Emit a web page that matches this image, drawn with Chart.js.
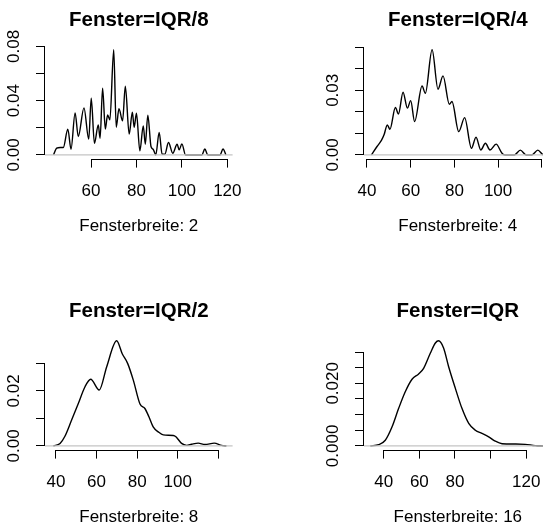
<!DOCTYPE html>
<html>
<head>
<meta charset="utf-8">
<title>Fensterbreite</title>
<script src="https://cdn.jsdelivr.net/npm/chart.js"></script>
<style>
  html, body { margin: 0; padding: 0; background: #fff; width: 543px; height: 531px; overflow: hidden; }
  canvas { position: absolute; }
</style>
</head>
<body>
<canvas id="p1" width="319" height="291" style="left:0px;top:0px"></canvas>
<canvas id="p2" width="319" height="291" style="left:319px;top:0px"></canvas>
<canvas id="p3" width="319" height="291" style="left:0px;top:291px"></canvas>
<canvas id="p4" width="319" height="291" style="left:319px;top:291px"></canvas>
<script>
'use strict';

// density curves
let x1 = [43.5, 44.9, 46.5, 47.8, 49.8, 51.2, 53.0, 54.4, 56.9, 59.0, 60.1, 61.5, 63.2, 64.0, 65.1, 66.3, 67.3, 68.3, 70.0, 71.1, 72.3, 73.9, 75.1, 76.8, 78.2, 79.0, 80.0, 81.5, 83.0, 83.9, 85.0, 86.4, 87.4, 88.5, 90.0, 91.3, 92.5, 94.1, 96.0, 97.9, 98.8, 100.0, 101.6, 108.8, 110.1, 111.4, 116.8, 118.1, 119.4];
let y1 = [0, 0.005, 0.0055, 0.0055, 0.019, 0.0042, 0.031, 0.0135, 0.0347, 0.0116, 0.0418, 0.0086, 0.0221, 0.0123, 0.0492, 0.019, 0.0295, 0.0258, 0.0775, 0.0204, 0.034, 0.0251, 0.0507, 0.0153, 0.0315, 0.0204, 0.0307, 0.003, 0.0214, 0.0079, 0.0293, 0.0062, 0.004, 0, 0.0165, 0.0005, 0.0005, 0.0091, 0.0012, 0.0079, 0.0037, 0.0081, 0, 0, 0.0044, 0, 0, 0.0044, 0];

let x2 = [42.0, 44.6, 46.6, 47.8, 49.3, 50.5, 53.0, 54.4, 56.5, 58.5, 60.0, 61.8, 65.2, 66.7, 69.8, 72.5, 74.8, 77.7, 78.9, 82.0, 84.7, 87.8, 89.9, 92.1, 94.2, 96.3, 99.1, 101.8, 103.2, 107.5, 110.2, 112.8, 115.5, 118.2, 120.8, 122.0];
let y2 = [0, 0.0039, 0.0067, 0.0093, 0.0139, 0.0119, 0.022, 0.019, 0.0291, 0.0217, 0.0252, 0.0155, 0.032, 0.0286, 0.0488, 0.0305, 0.0367, 0.0235, 0.0248, 0.0108, 0.0173, 0.0031, 0.0082, 0.0023, 0.0054, 0.0023, 0.005, 0.0008, 0, 0, 0.0022, 0, 0, 0.0022, 0, 0];

let x3 = [38.7, 42.0, 44.4, 47.7, 51.0, 54.3, 57.1, 61.3, 65.0, 69.9, 72.7, 75.3, 78.1, 81.4, 83.8, 85.8, 87.9, 90.4, 92.9, 97.8, 99.1, 101.9, 104.4, 106.8, 110.1, 113.4, 118.0, 121.6, 124.0];
let y3 = [0, 0.0009, 0.0035, 0.0094, 0.0154, 0.0215, 0.0242, 0.0203, 0.0288, 0.0382, 0.0334, 0.030, 0.0239, 0.0152, 0.0136, 0.0106, 0.0069, 0.0051, 0.004, 0.0038, 0.0033, 0.0009, 0.0002, 0.0006, 0.001, 0.0005, 0.001, 0.0002, 0];

let x4 = [32.5, 37.2, 40.9, 44.7, 48.4, 52.1, 55.9, 59.6, 62.4, 66.2, 69.0, 70.8, 73.6, 76.4, 80.2, 83.9, 87.7, 91.4, 95.1, 98.9, 102.6, 106.4, 113.8, 119.4, 125.0, 129.7];
let y4 = [0, 0.0004, 0.0018, 0.0061, 0.012, 0.0173, 0.0213, 0.023, 0.0248, 0.0297, 0.0329, 0.0336, 0.0313, 0.0254, 0.0184, 0.012, 0.0072, 0.005, 0.004, 0.0029, 0.0015, 0.0007, 0.0006, 0.0005, 0.0001, 0];

let titles = ['Fenster=IQR/8', 'Fenster=IQR/4', 'Fenster=IQR/2', 'Fenster=IQR'];
let subs = ['Fensterbreite: 2', 'Fensterbreite: 4', 'Fensterbreite: 8', 'Fensterbreite: 16'];

let xTicks = [[60, 80, 100, 120], [40, 60, 80, 100, 120], [40, 60, 80, 100, 120], [40, 60, 80, 100, 120]];
let xTickLabels = [['60', '80', '100', '120'], ['40', '60', '80', '100', ''], ['40', '60', '80', '100', ''], ['40', '60', '80', '', '120']];
let yTicks = [[0, 0.02, 0.04, 0.06, 0.08], [0, 0.01, 0.02, 0.03, 0.04, 0.05], [0, 0.01, 0.02, 0.03], [0, 0.005, 0.01, 0.015, 0.02, 0.025, 0.03]];
let yTickLabels = [['0.00', '', '0.04', '', '0.08'], ['0.00', '', '', '0.03', '', ''], ['0.00', '', '0.02', ''], ['0.000', '', '', '', '0.020', '', '']];

// x range of each plot region
let xLimits = [[39.75, 122.32], [38.63, 124.5], [34.58, 127.04], [28.95, 134.2]];

let font = 'Liberation Sans, Arial, Helvetica, sans-serif';

function rPlugin(i) {
  return {
    id: 'rStyle',
    afterDatasetsDraw(chart) {
      let ctx = chart.ctx;
      let a = chart.chartArea;
      let y0 = chart.scales.y.getPixelForValue(0);
      ctx.save();
      ctx.strokeStyle = '#c4c4c4';
      ctx.lineWidth = 1.3;
      ctx.beginPath();
      ctx.moveTo(a.left, y0);
      ctx.lineTo(a.right, y0);
      ctx.stroke();
      ctx.restore();
    },
    afterDraw(chart) {
      let ctx = chart.ctx;
      let a = chart.chartArea;
      let sx = chart.scales.x;
      let sy = chart.scales.y;
      let xt = xTicks[i];
      let yt = yTicks[i];
      ctx.save();
      ctx.strokeStyle = '#000';
      ctx.lineWidth = 1;
      let bx = Math.round(a.bottom) + 0.5;
      ctx.beginPath();
      ctx.moveTo(sx.getPixelForValue(xt[0]), bx);
      ctx.lineTo(sx.getPixelForValue(xt[xt.length - 1]), bx);
      ctx.stroke();
      let lx = Math.round(a.left) - 0.5;
      ctx.beginPath();
      ctx.moveTo(lx, sy.getPixelForValue(yt[0]));
      ctx.lineTo(lx, sy.getPixelForValue(yt[yt.length - 1]));
      ctx.stroke();

      ctx.fillStyle = '#000';
      ctx.font = '17px ' + font;
      ctx.textAlign = 'center';
      ctx.textBaseline = 'middle';
      for (let k = 0; k < yt.length; k++) {
        if (!yTickLabels[i][k]) continue;
        ctx.save();
        ctx.translate(a.left - 31, sy.getPixelForValue(yt[k]));
        ctx.rotate(-Math.PI / 2);
        ctx.fillText(yTickLabels[i][k], 0, 0);
        ctx.restore();
      }

      let cx = (a.left + a.right) / 2;
      ctx.textBaseline = 'alphabetic';
      ctx.fillText(subs[i], cx, a.bottom + 72.3);
      ctx.font = 'bold 20.5px ' + font;
      ctx.fillText(titles[i], cx, a.top - 19.7);
      ctx.restore();
    }
  };
}

function makeChart(i, xs, ys) {
  let points = xs.map((x, k) => ({ x: x, y: ys[k] }));
  let yMax = Math.max(...ys);
  let config = {
    type: 'line',
    data: {
      datasets: [{
        data: points,
        borderColor: '#000',
        borderWidth: 1.4,
        pointRadius: 0,
        fill: false,
        cubicInterpolationMode: 'monotone'
      }]
    },
    options: {
      responsive: false,
      animation: false,
      devicePixelRatio: 1,
      events: [],
      layout: { padding: { top: 45.6, right: 86.4, left: 0, bottom: 0 } },
      plugins: { legend: { display: false }, tooltip: { enabled: false } },
      scales: {
        x: {
          type: 'linear',
          min: xLimits[i][0],
          max: xLimits[i][1],
          afterBuildTicks: s => { s.ticks = xTicks[i].map(v => ({ value: v })); },
          afterFit: s => { s.height = 131.9; },
          grid: { drawOnChartArea: false, color: '#000', lineWidth: 1, tickLength: 8.5 },
          border: { display: false },
          ticks: {
            color: '#000',
            font: { family: font, size: 17 },
            padding: 13.8,
            maxRotation: 0,
            autoSkip: false,
            callback: (v, k) => xTickLabels[i][k]
          }
        },
        y: {
          type: 'linear',
          min: -0.04 * yMax,
          max: 1.04 * yMax,
          afterBuildTicks: s => { s.ticks = yTicks[i].map(v => ({ value: v })); },
          afterFit: s => { s.width = 45; },
          grid: { drawOnChartArea: false, color: '#000', lineWidth: 1, tickLength: 9 },
          border: { display: false },
          ticks: { display: false }
        }
      }
    },
    plugins: [rPlugin(i)]
  };
  new Chart(document.getElementById('p' + (i + 1)).getContext('2d'), config);
}

makeChart(0, x1, y1);
makeChart(1, x2, y2);
makeChart(2, x3, y3);
makeChart(3, x4, y4);
</script>
</body>
</html>
